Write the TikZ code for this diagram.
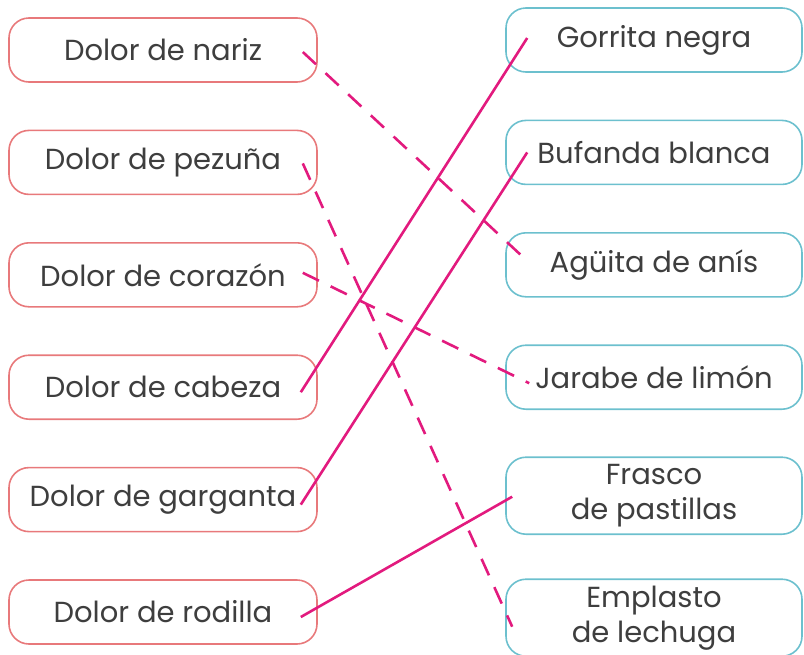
\documentclass[tikz,border=0pt]{standalone}
\usepackage{fontspec}
\setmainfont{Poppins}
\usetikzlibrary{positioning,calc}
\definecolor{PainRed}{HTML}{E8797B}
\definecolor{CureTeal}{HTML}{6CC0CE}
\definecolor{LinkPink}{HTML}{E21A7E}
\definecolor{InkGray}{HTML}{3E3E3E}

\begin{document}
\begin{tikzpicture}[
  x=1pt,y=-1pt,
  node distance=46.8pt,
  every node/.style={font=\fontsize{29}{35}\selectfont,text=InkGray,align=center},
  pain/.style={draw=PainRed,line width=1.6pt,rounded corners=20pt,minimum width=308pt,minimum height=64pt},
  cure/.style={draw=CureTeal,line width=1.6pt,rounded corners=20pt,minimum width=296pt,minimum height=64pt},
  tall/.style={cure,minimum height=77pt},
  tie/.style={draw=LinkPink,line width=2.6pt},
  dtie/.style={tie,dash pattern=on 18pt off 13pt}
]
\useasboundingbox (0,0) rectangle (804,654);
\node[pain] (nariz) at (163,50) {Dolor de nariz};
\node[pain,below=of nariz] (pezuna) {Dolor de pezuña};
\node[pain,below=of pezuna] (corazon) {Dolor de corazón};
\node[pain,below=of corazon] (cabeza) {Dolor de cabeza};
\node[pain,below=of cabeza] (garganta) {Dolor de garganta};
\node[pain,below=of garganta] (rodilla) {Dolor de rodilla};
\node[cure] (gorrita) at (654,40) {Gorrita negra};
\node[cure,below=of gorrita] (bufanda) {Bufanda blanca};
\node[cure,below=of bufanda] (aguita) {Agüita de anís};
\node[cure,below=of aguita] (jarabe) {Jarabe de limón};
\node[tall,below=46.4pt of jarabe] (frasco) {Frasco\\de pastillas};
\node[tall,below=43.4pt of frasco] (emplasto) {Emplasto\\de lechuga};
% solid pairs
\draw[tie] ($(cabeza.east)+(-17,5)$) -- ($(gorrita.west)+(22,-2)$);
\draw[tie] ($(garganta.east)+(-17,5)$) -- ($(bufanda.west)+(22,0)$);
\draw[tie] ($(rodilla.east)+(-17,5)$) -- ($(frasco.west)+(7,1)$);
% dashed pairs
\draw[dtie] ($(nariz.east)+(-15,2)$) -- ($(aguita.west)+(24,-2)$);
\draw[dtie] ($(pezuna.east)+(-15,1)$) -- ($(emplasto.west)+(7,9)$);
\draw[dtie] ($(corazon.east)+(-15,-2)$) -- ($(jarabe.west)+(24,6)$);
\end{tikzpicture}
\end{document}
